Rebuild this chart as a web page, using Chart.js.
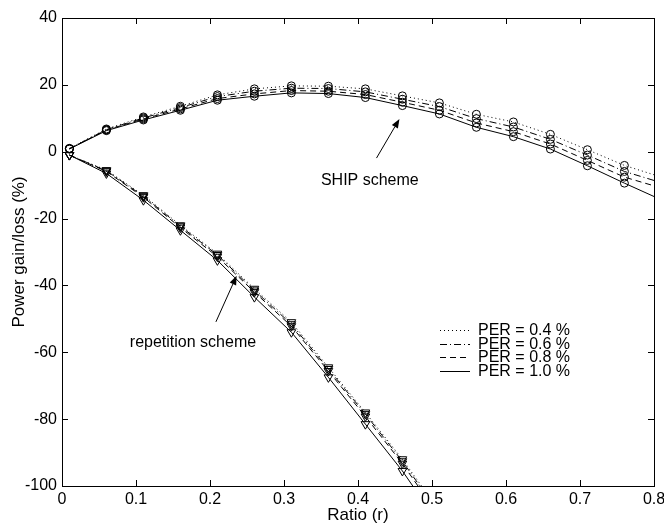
<!DOCTYPE html>
<html>
<head>
<meta charset="utf-8">
<script src="https://cdn.jsdelivr.net/npm/chart.js@4.4.1/dist/chart.umd.min.js"></script>
<style>
  html, body { margin: 0; padding: 0; background: #fff; }
  #wrap { width: 664px; height: 523px; }
</style>
</head>
<body>
<div id="wrap"><canvas id="c" width="664" height="523"></canvas></div>
<script>
// ---- data ----
const xShip = [0.01, 0.06, 0.11, 0.16, 0.21, 0.26, 0.31, 0.36, 0.41, 0.46, 0.51, 0.56, 0.61, 0.66, 0.71, 0.76, 0.80];
const ship04 = [1.0, 6.8, 10.4, 13.6, 17.0, 18.8, 19.7, 19.6, 18.8, 16.7, 14.6, 11.2, 8.9, 5.2, 0.6, -4.1, -6.9];
const ship06 = [0.9, 6.6, 10.1, 13.2, 16.5, 18.1, 19.0, 18.9, 17.9, 15.7, 13.5, 9.9, 7.4, 3.7, -1.0, -5.9, -8.6];
const ship08 = [0.9, 6.5, 9.8, 12.8, 15.9, 17.3, 18.3, 18.1, 17.1, 14.8, 12.4, 8.6, 6.0, 2.3, -2.6, -7.6, -10.2];
const ship10 = [0.8, 6.3, 9.5, 12.4, 15.4, 16.6, 17.6, 17.4, 16.2, 13.8, 11.3, 7.3, 4.5, 0.8, -4.2, -9.4, -13.4];

const xRep = [0.01, 0.06, 0.11, 0.16, 0.21, 0.26, 0.31, 0.36, 0.41, 0.46, 0.51];
const rep04 = [-1.0, -5.5, -13.0, -22.0, -30.5, -41.0, -51.0, -64.5, -78.0, -92.0, -107.5];
const rep06 = [-1.0, -5.7, -13.3, -22.3, -30.9, -41.5, -51.6, -65.0, -78.5, -92.6, -108.3];
const rep08 = [-1.0, -5.9, -13.6, -22.7, -31.4, -42.0, -52.2, -65.6, -79.2, -93.3, -109.2];
const rep10 = [-1.0, -6.5, -14.5, -23.5, -32.5, -43.5, -54.0, -67.5, -81.5, -95.5, -111.5];

const markerX = [0.01, 0.06, 0.11, 0.16, 0.21, 0.26, 0.31, 0.36, 0.41, 0.46, 0.51, 0.56, 0.61, 0.66, 0.71, 0.76];
const repMarkerMax = 0.46;

const seriesLabels = ['PER = 0.4 %', 'PER = 0.6 %', 'PER = 0.8 %', 'PER = 1.0 %'];
const xTicks = [0, 0.1, 0.2, 0.3, 0.4, 0.5, 0.6, 0.7, 0.8];
const yTicks = [-100, -80, -60, -40, -20, 0, 20, 40];
const xTitle = 'Ratio (r)';
const yTitle = 'Power gain/loss (%)';
const notes = [
  { text: 'SHIP scheme', x: 0.416, y: -8.6, ax: 0.425, ay: -1.9, hx: 0.456, hy: 9.8 },
  { text: 'repetition scheme', x: 0.177, y: -57.0, ax: 0.208, ay: -50.9, hx: 0.236, hy: -37.1 }
];

const dashes = [[1, 3], [7, 3, 1, 3], [6, 4], []];
const FAM = '"Liberation Sans", Arial, sans-serif';
const FONT = '16px ' + FAM;
const TFONT = '17px ' + FAM;

function pts(xs, ys) { return xs.map((x, i) => ({ x: x, y: ys[i] })); }

const datasets = [];
[ship04, ship06, ship08, ship10].forEach((ys, k) => {
  datasets.push({
    label: seriesLabels[k],
    data: pts(xShip, ys),
    borderColor: '#000', borderWidth: 1, borderDash: dashes[k],
    pointStyle: 'circle',
    pointRadius: xShip.map(x => markerX.includes(x) ? 4 : 0),
    pointBorderColor: '#000', pointBackgroundColor: 'rgba(0,0,0,0)', pointBorderWidth: 1,
    tension: 0
  });
});
[rep04, rep06, rep08, rep10].forEach((ys, k) => {
  datasets.push({
    label: seriesLabels[k] + ' rep',
    data: pts(xRep, ys),
    borderColor: '#000', borderWidth: 1, borderDash: dashes[k],
    pointStyle: 'triangle', pointRotation: 180,
    pointRadius: xRep.map(x => x <= repMarkerMax + 1e-9 ? 5 : 0),
    pointBorderColor: '#000', pointBackgroundColor: 'rgba(0,0,0,0)', pointBorderWidth: 1,
    tension: 0
  });
});

function arrow(ctx, x1, y1, x2, y2) {
  const ang = Math.atan2(y2 - y1, x2 - x1);
  const L = 9, W = 3.5;
  ctx.beginPath();
  ctx.moveTo(x1, y1);
  ctx.lineTo(x2 - L * Math.cos(ang), y2 - L * Math.sin(ang));
  ctx.stroke();
  ctx.beginPath();
  ctx.moveTo(x2, y2);
  ctx.lineTo(x2 - L * Math.cos(ang) + W * Math.sin(ang), y2 - L * Math.sin(ang) - W * Math.cos(ang));
  ctx.lineTo(x2 - L * Math.cos(ang) - W * Math.sin(ang), y2 - L * Math.sin(ang) + W * Math.cos(ang));
  ctx.closePath();
  ctx.fill();
}

const decor = {
  id: 'decor',
  afterDatasetsDraw(chart) {
    const { ctx, chartArea: a, scales } = chart;
    const xs = scales.x, ys = scales.y;
    ctx.save();
    ctx.strokeStyle = '#000'; ctx.fillStyle = '#000'; ctx.lineWidth = 1; ctx.setLineDash([]);
    // frame
    ctx.strokeRect(Math.round(a.left) + 0.5, Math.round(a.top) + 0.5, Math.round(a.right - a.left), Math.round(a.bottom - a.top));
    // inward ticks
    const T = 6;
    ctx.beginPath();
    xTicks.forEach(v => {
      const p = Math.round(xs.getPixelForValue(v)) + 0.5;
      ctx.moveTo(p, a.bottom); ctx.lineTo(p, a.bottom - T);
      ctx.moveTo(p, a.top); ctx.lineTo(p, a.top + T);
    });
    yTicks.forEach(v => {
      const p = Math.round(ys.getPixelForValue(v)) + 0.5;
      ctx.moveTo(a.left, p); ctx.lineTo(a.left + T, p);
      ctx.moveTo(a.right, p); ctx.lineTo(a.right - T, p);
    });
    ctx.stroke();
    // annotations
    ctx.font = FONT; ctx.textAlign = 'center'; ctx.textBaseline = 'middle';
    notes.forEach(n => {
      ctx.fillText(n.text, xs.getPixelForValue(n.x), ys.getPixelForValue(n.y));
      arrow(ctx, xs.getPixelForValue(n.ax), ys.getPixelForValue(n.ay), xs.getPixelForValue(n.hx), ys.getPixelForValue(n.hy));
    });
    // legend
    const lx0 = 440, lx1 = 470, tx = 478, rows = [330, 343.5, 357, 370.5];
    ctx.textAlign = 'left';
    rows.forEach((ry, k) => {
      ctx.setLineDash(dashes[k]);
      ctx.beginPath();
      ctx.moveTo(lx0, Math.round(ry) + 0.5); ctx.lineTo(lx1, Math.round(ry) + 0.5);
      ctx.stroke();
      ctx.setLineDash([]);
      ctx.fillText(seriesLabels[k], tx, ry + 1);
    });
    // axis titles
    ctx.font = TFONT;
    ctx.textAlign = 'center';
    ctx.fillText(xTitle, (a.left + a.right) / 2, 515);
    ctx.save();
    ctx.translate(19, (a.top + a.bottom) / 2);
    ctx.rotate(-Math.PI / 2);
    ctx.fillText(yTitle, 0, 0);
    ctx.restore();
    ctx.restore();
  }
};

new Chart(document.getElementById('c'), {
  type: 'line',
  data: { datasets },
  options: {
    responsive: false, animation: false, devicePixelRatio: 1,
    layout: { padding: { left: 0, right: 10, top: 18, bottom: 0 } },
    plugins: { legend: { display: false }, tooltip: { enabled: false } },
    scales: {
      x: {
        type: 'linear', min: 0, max: 0.8,
        afterFit(s) { s.height = 37; s.paddingLeft = 0; s.paddingRight = 0; },
        afterBuildTicks(s) { s.ticks = xTicks.map(v => ({ value: v })); },
        grid: { display: false, drawTicks: false },
        border: { display: false },
        ticks: { color: '#000', font: { family: FAM, size: 16 }, padding: 4,
          callback: v => String(Math.round(v * 10) / 10), maxRotation: 0, autoSkip: false }
      },
      y: {
        type: 'linear', min: -100, max: 40,
        afterFit(s) { s.width = 62; s.paddingTop = 0; s.paddingBottom = 0; },
        afterBuildTicks(s) { s.ticks = yTicks.map(v => ({ value: v })); },
        grid: { display: false, drawTicks: false },
        border: { display: false },
        ticks: { color: '#000', font: { family: FAM, size: 16 }, padding: 5,
          callback: v => String(v), autoSkip: false }
      }
    }
  },
  plugins: [decor]
});
</script>
</body>
</html>
